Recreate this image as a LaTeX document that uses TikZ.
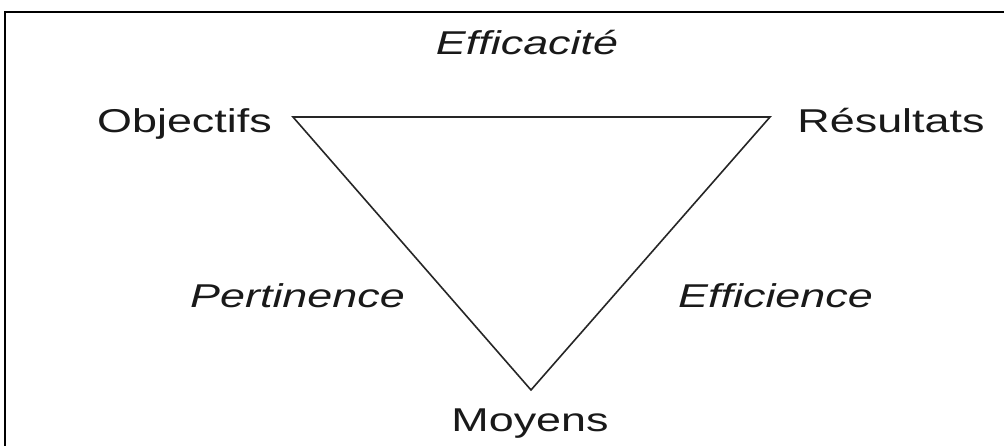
\documentclass[tikz,border=0pt]{standalone}
\usepackage{fontspec}
\setmainfont[FakeStretch=1.36]{Liberation Sans}
\usetikzlibrary{positioning}

\begin{document}
\begin{tikzpicture}[x=1pt, y=-1pt,
    lbl/.style={font=\fontsize{33}{39}\selectfont, text=black!90, inner sep=0pt, anchor=base},
    crit/.style={lbl, font=\fontsize{33}{39}\selectfont\itshape}]
    \useasboundingbox (0,0) rectangle (1004,446);

    % Frame (top and left edges)
    \draw[line width=2.5pt] (1004,12) -- (5,12) -- (5,446);

    % Triangle corners
    \coordinate (cobj) at (293,117);
    \coordinate (cres) at (770,117);
    \coordinate (cmoy) at (531,390);
    \draw[line width=1.6pt, black!85, line join=miter] (cobj) -- (cres) -- (cmoy) -- cycle;

    % Corner labels
    \node[lbl] (obj) at (184.5,133) {Objectifs};
    \node[lbl] (res) at (891,133) {Résultats};
    \node[lbl] (moy) at (530,431) {Moyens};

    % Side labels
    \node[crit] (effic) at (527,55) {Efficacité};
    \node[crit] (pert) at (297.5,308) {Pertinence};
    \node[crit] (effie) at (775.5,308) {Efficience};
\end{tikzpicture}
\end{document}
